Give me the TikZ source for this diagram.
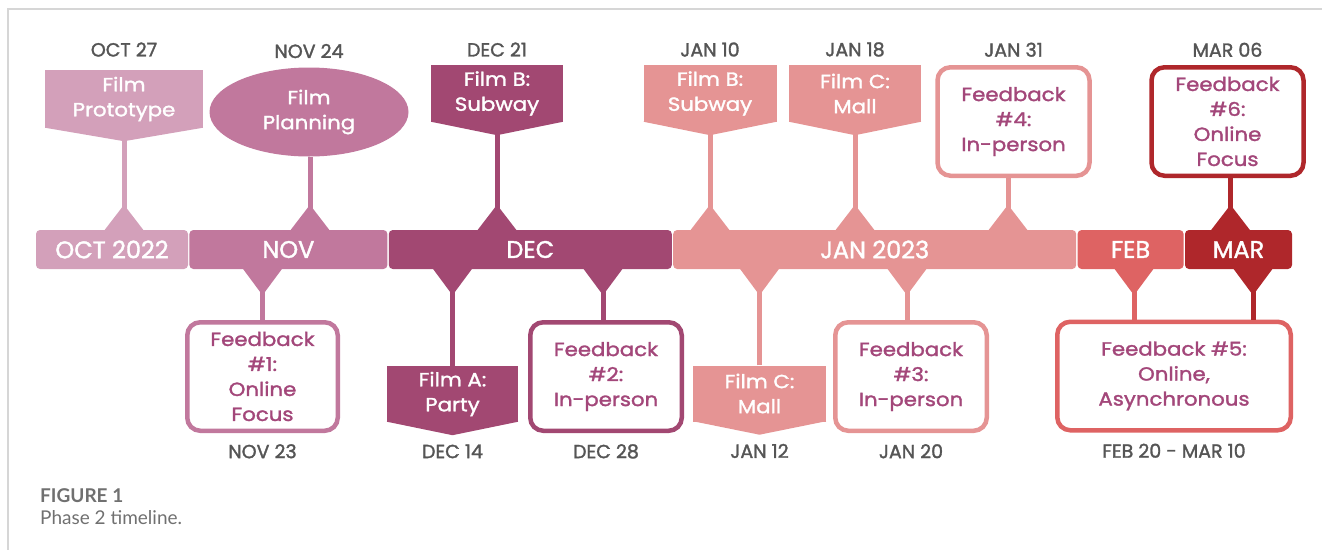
\documentclass[tikz,border=0pt]{standalone}
\usepackage{fontspec}
\setmainfont{Poppins}[FakeBold=1.6]
\newfontfamily\widefam{Poppins}[FakeBold=1.6, FakeStretch=1.12]
\newfontfamily\capfont{Lato}
\usetikzlibrary{positioning,shapes.geometric}

\definecolor{octc}{HTML}{D3A0BA}
\definecolor{novc}{HTML}{C1789D}
\definecolor{decc}{HTML}{A24872}
\definecolor{janc}{HTML}{E59494}
\definecolor{febc}{HTML}{DE6363}
\definecolor{marc}{HTML}{AF272B}
\definecolor{fbtext}{HTML}{A3477A}
\definecolor{datec}{HTML}{555555}
\definecolor{framec}{HTML}{D6D6D6}
\definecolor{capc}{HTML}{707070}

\newcommand\boxfont{\widefam\fontsize{19}{25}\selectfont}
\newcommand\datefont{\fontsize{19}{25}\selectfont}
\newcommand\barfont{\fontsize{24}{28}\selectfont}

\begin{document}
\begin{tikzpicture}[x=1pt, y=-1pt,
    month/.style={fill=#1, text=white, rounded corners=4pt, minimum height=39pt, inner sep=0pt, font=\barfont},
    film/.style={fill=#1, text=white, inner sep=0pt, minimum height=57pt, align=center, font=\boxfont},
    fback/.style={draw=#1, line width=4.5pt, rounded corners=13pt, fill=white, text=fbtext, inner sep=0pt, minimum width=152pt, minimum height=108.5pt, align=center, font=\boxfont},
    date/.style={text=datec, inner sep=0pt, font=\datefont},
    stem/.style={draw=#1, line width=5pt}]
    \useasboundingbox (0,0) rectangle (1322,550);

    % frame
    \draw[framec, line width=2pt] (1322,9) -- (8,9) -- (8,550);

    % months
    \node[month=octc, minimum width=152pt] (oct) at (112,249.5) {OCT 2022};
    \node[month=novc, minimum width=198pt, right=1pt of oct] (nov) {NOV};
    \node[month=decc, minimum width=283pt, right=1pt of nov] (dec) {DEC};
    \node[month=janc, minimum width=403pt, right=1pt of dec] (jan) {JAN 2023};
    \node[month=febc, minimum width=106pt, right=1pt of jan] (feb) {FEB};
    \node[month=marc, minimum width=107pt, right=1pt of feb] (mar) {MAR};

    % events above the bar
    \node[film=octc, minimum width=158pt, minimum height=58pt] (fproto) at (124,99) {Film\\Prototype};
    \node[ellipse, fill=novc, text=white, inner sep=0pt, minimum width=199pt, minimum height=89pt, align=center, font=\boxfont] (fplan) at (309,112) {Film\\Planning};
    \node[film=decc, minimum width=132pt] (filmbdec) at (497,93.5) {Film B:\\Subway};
    \node[film=janc, minimum width=133pt] (filmbjan) at (710,93.5) {Film B:\\Subway};
    \node[film=janc, minimum width=132pt] (filmctop) at (855,93.5) {Film C:\\Mall};
    \node[fback=janc] (fbfour) at (1013.5,121.5) {Feedback\\\#4:\\In-person};
    \node[fback=marc] (fbsix) at (1227.5,121.5) {Feedback\\\#6:\\Online\\Focus};

    % events below the bar
    \node[fback=novc, minimum width=150.5pt] (fbone) at (262.5,376.5) {Feedback\\\#1:\\Online\\Focus};
    \node[film=decc, minimum width=131pt, minimum height=56pt] (filma) at (452.5,394) {Film A:\\Party};
    \node[fback=decc, minimum width=151.5pt] (fbtwo) at (606,376.5) {Feedback\\\#2:\\In-person};
    \node[film=janc, minimum width=133pt, minimum height=56pt] (filmcbot) at (759.5,393.5) {Film C:\\Mall};
    \node[fback=janc, minimum width=151.5pt] (fbthree) at (911,376.5) {Feedback\\\#3:\\In-person};
    \node[fback=febc, minimum width=233.5pt] (fbfive) at (1174,376) {Feedback \#5:\\Online,\\Asynchronous};

    % pointed ends of the film boxes
    \foreach \n/\c in {fproto/octc, filmbdec/decc, filmbjan/janc, filmctop/janc, filma/decc, filmcbot/janc}
        \fill[\c] ([yshift=0.5pt]\n.south west) -- ([yshift=0.5pt]\n.south east) -- ([yshift=-13pt]\n.south) -- cycle;

    % dates
    \node[date, above=13pt of fproto] (doct) {OCT 27};
    \node[date, above=9pt of fplan] (dnovt) {NOV 24};
    \node[date, above=8pt of filmbdec] (ddect) {DEC 21};
    \node[date, above=8pt of filmbjan] (djana) {JAN 10};
    \node[date, above=8pt of filmctop] (djanb) {JAN 18};
    \node[date, above=8pt of fbfour] (djanc) {JAN 31};
    \node[date, above=8pt of fbsix] (dmar) {MAR 06};
    \node[date, below=11pt of fbone] (dnovb) {NOV 23};
    \node[date, below=22pt of filma] (ddeca) {DEC 14};
    \node[date, below=11pt of fbtwo] (ddecb) {DEC 28};
    \node[date, below=22pt of filmcbot] (djand) {JAN 12};
    \node[date, below=11pt of fbthree] (djane) {JAN 20};
    \node[date, below=11pt of fbfive] (dfeb) {FEB 20 - MAR 10};

    % stems and markers, top
    \foreach \n/\m/\c/\s in {fproto/oct/octc/0, fplan/nov/novc/1, filmbdec/dec/decc/0, filmbjan/jan/janc/0,
            filmctop/jan/janc/0, fbfour/jan/janc/-5.5, fbsix/mar/marc/3}{
        \draw[stem=\c] ([xshift=\s pt]\n.south) -- ([xshift=\s pt]\n.south |- \m.north);
        \fill[\c] ([xshift=\s pt]\n.south |- \m.north) ++(-20,1) -- ++(20,-26) -- ++(20,26) -- cycle;
    }
    % stems and markers, bottom
    \foreach \n/\m/\c/\s in {fbone/nov/novc/0, filma/dec/decc/0, fbtwo/dec/decc/-3, filmcbot/jan/janc/0,
            fbthree/jan/janc/-4, fbfive/feb/febc/-40, fbfive/mar/marc/79}{
        \draw[stem=\c] ([xshift=\s pt]\n.north) -- ([xshift=\s pt]\n.north |- \m.south);
        \fill[\c] ([xshift=\s pt]\n.north |- \m.south) ++(-20,-1) -- ++(20,27) -- ++(20,-27) -- cycle;
    }

    % caption
    \node[anchor=base west, inner sep=0pt, text=capc, font=\capfont\bfseries\fontsize{19}{22}\selectfont] (figno) at (40,502) {FIGURE 1};
    \node[anchor=base west, inner sep=0pt, text=capc, font=\capfont\fontsize{19}{22}\selectfont] (figcap) at (40,524) {Phase 2 timeline.};
\end{tikzpicture}
\end{document}
